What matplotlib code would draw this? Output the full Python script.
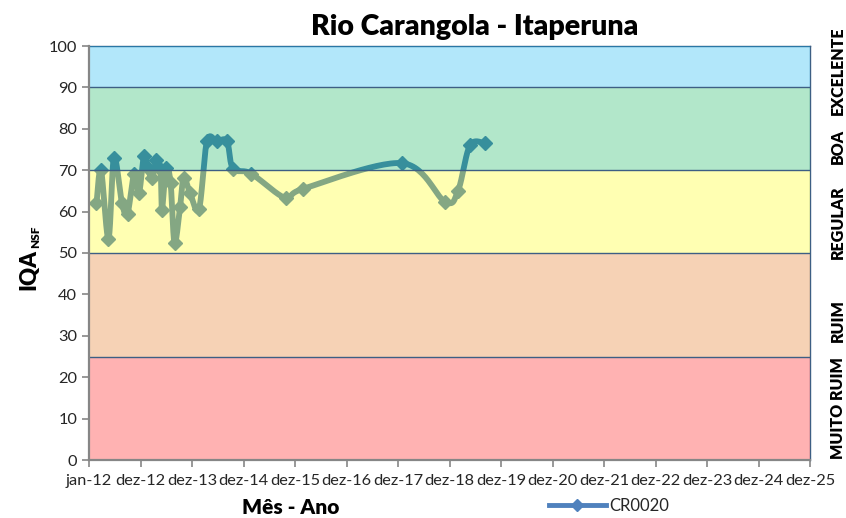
import numpy as np
import pandas as pd
import matplotlib
matplotlib.use("Agg")
import matplotlib.pyplot as plt
import matplotlib.dates as mdates
from matplotlib.lines import Line2D

plt.rcParams['font.family'] = ['Lato', 'DejaVu Sans']

# ---------------- data ----------------
title = "Rio Carangola - Itaperuna"
series_name = "CR0020"
dates = ["2012-02-23", "2012-03-26", "2012-05-18", "2012-06-26", "2012-08-22",
         "2012-09-30", "2012-11-15", "2012-12-20", "2013-01-25", "2013-02-22",
         "2013-03-22", "2013-04-23", "2013-05-22", "2013-06-01", "2013-06-30",
         "2013-08-01", "2013-08-29", "2013-10-07", "2013-11-01", "2013-12-17",
         "2014-02-19", "2014-04-16", "2014-06-26", "2014-09-05", "2014-10-18",
         "2015-02-22", "2015-10-28", "2016-02-26", "2018-01-27", "2018-11-28",
         "2019-02-28", "2019-05-24", "2019-09-07"]
values = [62, 70, 53.5, 73, 62, 59.5, 69, 64.5, 73.5, 70.5,
          68, 72.5, 70, 60.5, 70.5, 67, 52.5, 61, 68.2, 64.5,
          60.7, 77, 77, 77, 70.4, 69.2, 63.2, 65.5, 71.7, 62.4,
          65, 76, 76.5]

band_limits = [(0, 25), (25, 50), (50, 70), (70, 90), (90, 100)]
band_names = ["MUITO RUIM", "RUIM", "REGULAR", "BOA", "EXCELENTE"]
band_label_y = [12.5, 33.8, 57.5, 75.8, 94]
band_colors = ["#FF0000", "#E46C0A", "#FFFF00", "#00B050", "#00B0F0"]

x_start = "2012-01-01"
tick_step_days = 365
x_tick_labels = ["jan-12", "dez-12", "dez-13", "dez-14", "dez-15", "dez-16", "dez-17",
                 "dez-18", "dez-19", "dez-20", "dez-21", "dez-22", "dez-23", "dez-24",
                 "dez-25"]
y_ticks = list(range(0, 101, 10))

# ---------------- figure ----------------
fig = plt.figure(figsize=(8.46, 5.18), dpi=100)
ax = fig.add_axes([89 / 846, 1 - 460 / 518, 721 / 846, 414 / 518])

x0 = mdates.date2num(pd.Timestamp(x_start))
xt = x0 + np.arange(len(x_tick_labels)) * tick_step_days
x = mdates.date2num(pd.to_datetime(dates))
y = np.array(values, dtype=float)

# smooth curve (Catmull-Rom / Bezier, like Excel smoothing)
P = np.column_stack([x, y])
Pp = np.vstack([P[0], P, P[-1]])
curve = []
t = np.linspace(0, 1, 30)[:, None]
for i in range(1, len(Pp) - 2):
    p0, p1, p2, p3 = Pp[i - 1], Pp[i], Pp[i + 1], Pp[i + 2]
    c1 = p1 + (p2 - p0) / 6
    c2 = p2 - (p3 - p1) / 6
    seg = ((1 - t) ** 3) * p1 + 3 * ((1 - t) ** 2) * t * c1 + 3 * (1 - t) * t ** 2 * c2 + t ** 3 * p2
    curve.append(seg)
curve = np.vstack(curve)

line_color = "#4F81BD"
ax.plot(curve[:, 0], curve[:, 1], color=line_color, lw=4.2, zorder=2,
        solid_capstyle='round', solid_joinstyle='round')
ax.plot(x, y, linestyle='none', marker='D', ms=7.5, color=line_color, zorder=2)

for (lo, hi), c in zip(band_limits, band_colors):
    ax.axhspan(lo, hi, color=c, alpha=0.3, lw=0, zorder=3)
for lo, hi in band_limits[1:]:
    ax.axhline(lo, color="#3D5F84", lw=1.0, zorder=4)

ax.set_xlim(xt[0], xt[-1])
ax.set_ylim(0, 100)
ax.set_xticks(xt)
ax.set_xticklabels(x_tick_labels)
ax.set_yticks(y_ticks)
ax.tick_params(axis='both', direction='out', length=5, width=1.2, color='#868686',
               labelsize=11.8, labelcolor='#262626')
ax.tick_params(axis='x', pad=5)

for s in ['left', 'bottom']:
    ax.spines[s].set_color('#868686')
    ax.spines[s].set_linewidth(1.6)
    ax.spines[s].set_zorder(6)
for s in ['top', 'right']:
    ax.spines[s].set_color('#3D5F84')
    ax.spines[s].set_linewidth(1.0)

for name, yy in zip(band_names, band_label_y):
    ax.text(1.039, yy, name, transform=ax.get_yaxis_transform(), rotation=90,
            ha='center', va='center', fontsize=11.5, fontweight='heavy', color='black')

fig.text(475 / 846, 1 - 27 / 518, title, ha='center', va='center', fontsize=20.5,
         fontweight='heavy')
fig.text(29 / 846, 1 - 270 / 518, "IQA", rotation=90, ha='center', va='center',
         fontsize=16, fontweight='heavy')
fig.text(36 / 846, 1 - 237 / 518, "NSF", rotation=90, ha='center', va='center',
         fontsize=8.5, fontweight='heavy')
fig.text(291 / 846, 1 - 508 / 518, "Mês - Ano", ha='center', va='center', fontsize=15,
         fontweight='heavy')

handle = Line2D([], [], color=line_color, lw=3.5, marker='D', ms=6)
fig.legend([handle], [series_name], loc='center', bbox_to_anchor=(609 / 846, 1 - 506 / 518),
           frameon=False, fontsize=12, handlelength=3.4, handletextpad=0.2,
           borderpad=0, labelcolor='#262626')

fig.savefig("out.png", dpi=100)
